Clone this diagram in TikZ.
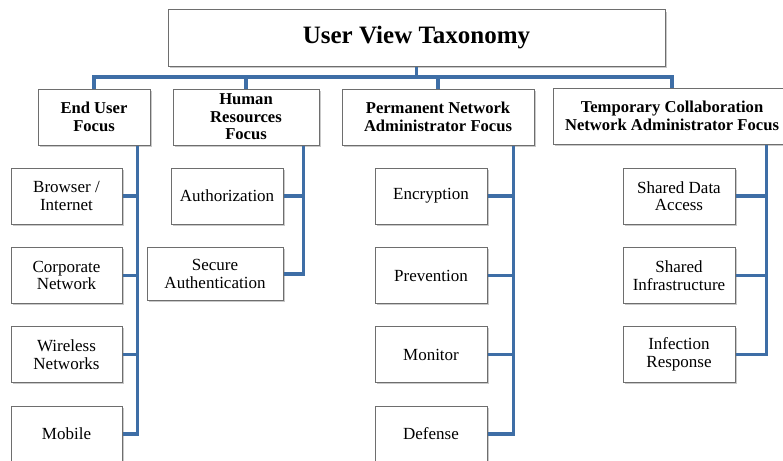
\documentclass[tikz,border=0pt]{standalone}
\usepackage{fontspec}
\setmainfont{Liberation Serif}
\usetikzlibrary{shadows}
\definecolor{linkblue}{RGB}{62,110,166}
\definecolor{boxline}{RGB}{110,110,110}
\tikzset{
  box/.style={draw=boxline, line width=1pt, fill=white, align=center,
    inner sep=2pt, minimum height=56pt,
    drop shadow={shadow xshift=1.6pt, shadow yshift=-1.8pt, opacity=0.35, fill=black!60}},
  headbox/.style={box, font=\fontsize{25}{28}\selectfont\bfseries},
  focusbox/.style={box, font=\fontsize{16.6}{17.5}\selectfont\bfseries},
  leafbox/.style={box, font=\fontsize{17}{17.6}\selectfont},
  link/.style={draw=linkblue, line width=3.8pt, line join=miter}
}
\begin{document}
\begin{tikzpicture}[x=1pt, y=-1pt]
\clip (0,0) rectangle (783,460);
\fill[white] (0,0) rectangle (783,460);

\coordinate (bus) at (0,77);

% top level
\node[headbox, minimum width=497pt] (title) at (416.5,38) {User View Taxonomy};

% focus areas
\node[focusbox, minimum width=112pt] (eu) at (94,117) {End User\\Focus};
\node[focusbox, minimum width=146pt] (hr) at (246,117) {Human\\Resources\\Focus};
\node[focusbox, minimum width=192pt] (perm) at (438,117) {Permanent Network\\Administrator Focus};
\node[focusbox, minimum width=238pt] (temp) at (672,116) {Temporary Collaboration\\Network Administrator Focus};

% stems hanging below each focus box
\coordinate (euS) at ([xshift=-13pt]eu.south east);
\coordinate (hrS) at ([xshift=-16pt]hr.south east);
\coordinate (permS) at ([xshift=-21pt]perm.south east);
\coordinate (tempS) at ([xshift=-25pt]temp.south east);

% end user leaves
\node[leafbox, minimum width=111pt] (browser) at (66.5,196) {Browser /\\Internet};
\node[leafbox, minimum width=111pt] (corp) at (66.5,275.5) {Corporate\\Network};
\node[leafbox, minimum width=111pt] (wireless) at (66.5,354.5) {Wireless\\Networks};
\node[leafbox, minimum width=111pt] (mobile) at (66.5,434) {Mobile};

% human resources leaves
\node[leafbox, minimum width=112pt] (authz) at (227,196) {Authorization};
\node[leafbox, minimum width=136pt, minimum height=53pt] (authn) at (215,274) {Secure\\Authentication};

% permanent network administrator leaves
\node[leafbox, minimum width=112pt] (encr) at (431,196) {Encryption};
\node[leafbox, minimum width=112pt] (prev) at (431,275.5) {Prevention};
\node[leafbox, minimum width=112pt] (mon) at (431,354.5) {Monitor};
\node[leafbox, minimum width=112pt] (def) at (431,434) {Defense};

% temporary collaboration leaves
\node[leafbox, minimum width=112pt] (sda) at (679,196) {Shared Data\\Access};
\node[leafbox, minimum width=112pt] (sinf) at (679,275.5) {Shared\\Infrastructure};
\node[leafbox, minimum width=112pt] (inf) at (679,354.5) {Infection\\Response};

% tree connectors: bus under the title
\draw[link] (title.south) -- (title.south |- bus);
\draw[link] (eu.north) -- (eu.north |- bus) -- (temp.north |- bus) -- (temp.north);
\draw[link] (hr.north) -- (hr.north |- bus);
\draw[link] (perm.north) -- (perm.north |- bus);

% tree connectors: stems and branches to the leaves
\draw[link] (euS) |- (mobile.east);
\foreach \n in {browser,corp,wireless} \draw[link] (\n.east) -- (\n.east -| euS);
\draw[link] (hrS) |- (authn.east);
\draw[link] (authz.east) -- (authz.east -| hrS);
\draw[link] (permS) |- (def.east);
\foreach \n in {encr,prev,mon} \draw[link] (\n.east) -- (\n.east -| permS);
\draw[link] (tempS) |- (inf.east);
\foreach \n in {sda,sinf} \draw[link] (\n.east) -- (\n.east -| tempS);
\end{tikzpicture}
\end{document}
